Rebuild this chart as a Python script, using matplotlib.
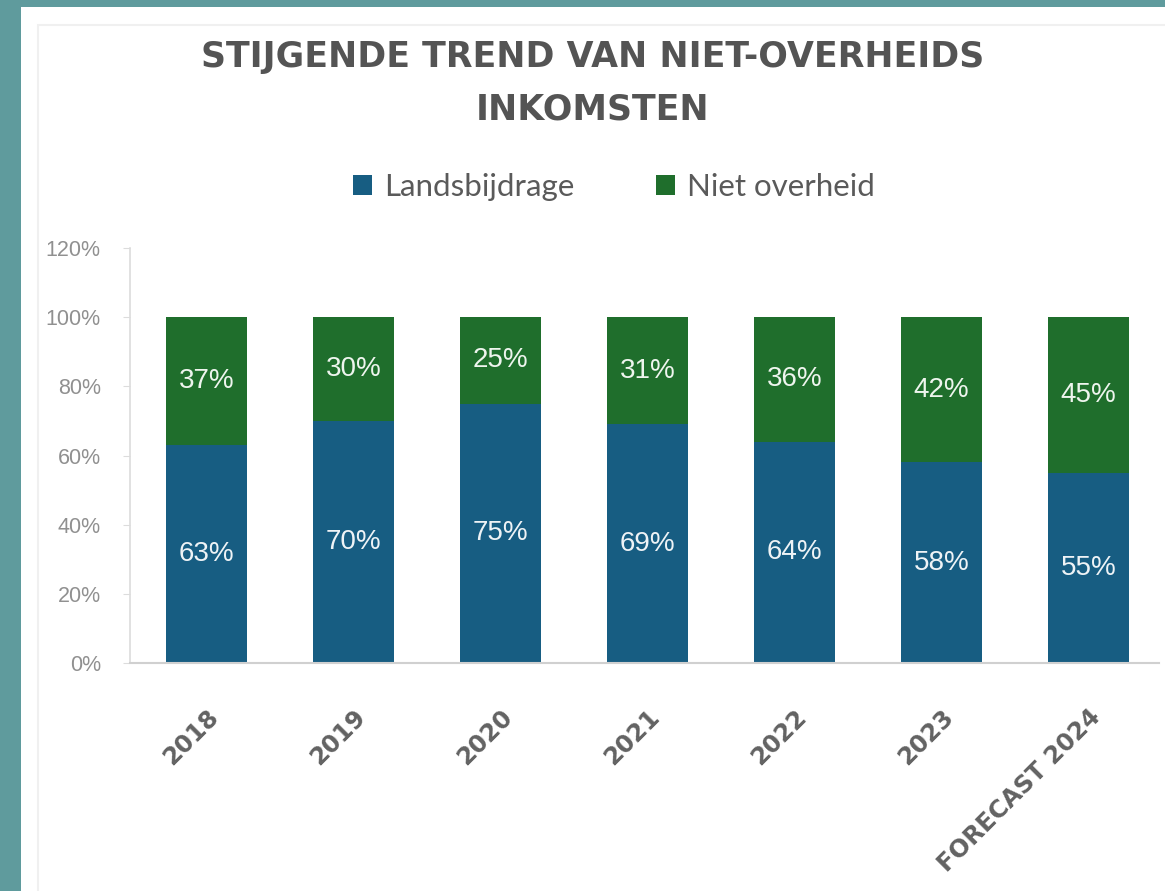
import matplotlib.pyplot as plt
from matplotlib.patches import Rectangle

# data
jaren = ['2018', '2019', '2020', '2021', '2022', '2023', 'FORECAST 2024']
landsbijdrage = [63, 70, 75, 69, 64, 58, 55]
niet_overheid = [37, 30, 25, 31, 36, 42, 45]
y_ticks = [0, 20, 40, 60, 80, 100, 120]

blauw = '#175d82'
groen = '#1f6e2c'

fig = plt.figure(figsize=(11.65, 8.91), dpi=100)
fig.patch.set_facecolor('#5f9b9d')

# witte kaart met lichte rand
fig.patches.append(Rectangle((21 / 1165, 0), 1 - 21 / 1165, 1 - 7 / 891,
                             transform=fig.transFigure, facecolor='white',
                             edgecolor='none', zorder=-10))
fig.patches.append(Rectangle((38 / 1165, -0.01), 1.0, 1 - 25 / 891 + 0.01,
                             transform=fig.transFigure, facecolor='none',
                             edgecolor='#f0f0f0', linewidth=1.5, zorder=-9))

ax = fig.add_axes([130 / 1165, 1 - 663 / 891, (1159 - 130) / 1165, (663 - 248) / 891])
ax.set_zorder(2)
ax.patch.set_alpha(0)

x = range(len(jaren))
b1 = ax.bar(x, landsbijdrage, width=0.55, color=blauw, label='Landsbijdrage', zorder=2)
b2 = ax.bar(x, niet_overheid, width=0.55, bottom=landsbijdrage, color=groen,
            label='Niet overheid', zorder=2)

ax.bar_label(b1, labels=[f'{v}%' for v in landsbijdrage], label_type='center',
             color='#eef3f6', fontsize=20, family='Liberation Sans')
ax.bar_label(b2, labels=[f'{v}%' for v in niet_overheid], label_type='center',
             color='#eef5ee', fontsize=20, family='Liberation Sans')

ax.set_xlim(-0.52, 6.48)
ax.set_ylim(0, 120)
ax.set_yticks(y_ticks)
ax.set_yticklabels([f'{v}%' for v in y_ticks], fontsize=15.5, color='#909090',
                   family='Liberation Sans')
ax.set_xticks(list(x))
ax.set_xticklabels(jaren, rotation=45, ha='right', rotation_mode='anchor',
                   fontsize=17.5, fontweight='bold', color='#626262',
                   family='DejaVu Sans')

for s in ['top', 'right']:
    ax.spines[s].set_visible(False)
ax.spines['left'].set_color('#dcdcdc')
ax.spines['bottom'].set_color('#d0d0d0')
ax.spines['left'].set_linewidth(1.2)
ax.spines['bottom'].set_linewidth(1.5)
ax.tick_params(axis='y', length=5, color='#dcdcdc', pad=16)
ax.tick_params(axis='x', length=0, pad=30)

fig.text(593 / 1165, 1 - 57 / 891, 'STIJGENDE TREND VAN NIET-OVERHEIDS',
         ha='center', va='center', fontsize=25, fontweight='bold', color='#545454',
         family='DejaVu Sans')
fig.text(593 / 1165, 1 - 110 / 891, 'INKOMSTEN',
         ha='center', va='center', fontsize=25, fontweight='bold', color='#545454',
         family='DejaVu Sans')

fig.legend(handles=[b1, b2], loc='center', bbox_to_anchor=(614 / 1165, 1 - 187 / 891),
           ncol=2, frameon=False, handlelength=0.6, handleheight=0.6,
           handletextpad=0.4, columnspacing=2.6, labelcolor='#5a5a5a',
           prop={'family': 'Lato', 'size': 22.5})

fig.savefig('out.png', dpi=100, facecolor=fig.get_facecolor())
